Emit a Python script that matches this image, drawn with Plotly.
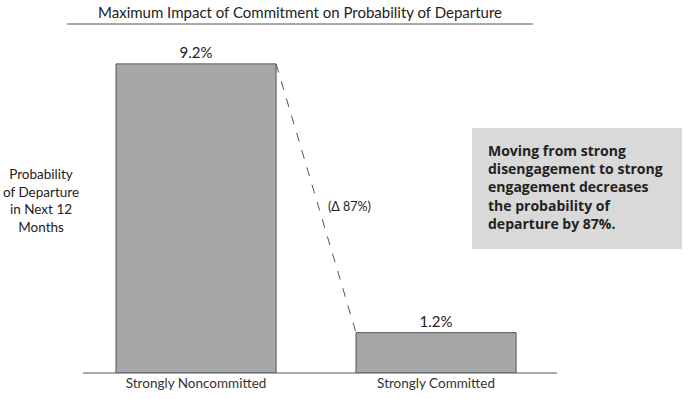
import plotly.graph_objects as go

categories = ["Strongly Noncommitted", "Strongly Committed"]
values = [9.2, 1.2]
value_labels = ["9.2%", "1.2%"]
change_label = "(Δ 87%)"
title_text = "Maximum Impact of Commitment on Probability of Departure"
y_title = "Probability<br>of Departure<br>in Next 12<br>Months"
note_text = ("<b>Moving from strong<br>disengagement to strong<br>engagement decreases<br>"
             "the probability of<br>departure by 87%.</b>")

FONT = "Lato, 'Open Sans', sans-serif"
xpos = [0, 1]
bw = 0.667

W, H = 690, 399
l, r, t, b = 83, 133, 37, 26
pw, ph = W - l - r, H - t - b
def px(x): return (x - l) / pw
def py(y): return (H - b - y) / ph

fig = go.Figure()
fig.add_trace(go.Bar(
    x=xpos, y=values, width=bw,
    marker=dict(color="#a6a7a9", line=dict(color="#555555", width=1)),
    text=value_labels, textposition="outside",
    textfont=dict(family=FONT, size=15, color="#222"),
    cliponaxis=False, hoverinfo="skip",
))
# dashed connector between bar tops
fig.add_trace(go.Scatter(
    x=[xpos[0] + bw / 2, xpos[1] - bw / 2], y=[values[0], values[1]],
    mode="lines", line=dict(color="#555555", width=1, dash="dash"),
    hoverinfo="skip",
))

fig.update_layout(
    width=W, height=H,
    margin=dict(l=l, r=r, t=t, b=b, autoexpand=False),
    plot_bgcolor="white", paper_bgcolor="white",
    showlegend=False,
    xaxis=dict(range=[-0.471, 1.504], tickvals=xpos, ticktext=categories,
               showgrid=False, zeroline=False, showline=False, ticks="",
               tickfont=dict(family=FONT, size=13.5, color="#333")),
    yaxis=dict(range=[0, 10], visible=False),
)

fig.add_shape(type="line", xref="paper", yref="paper", x0=0, x1=1, y0=0, y1=0,
              line=dict(color="#555555", width=1.2))
fig.add_annotation(x=0.54, y=4.97, xref="x", yref="y", text=change_label,
                   showarrow=False, xanchor="left", yanchor="middle",
                   font=dict(family=FONT, size=12.5, color="#222"))
fig.add_annotation(x=px(300), y=py(12), xref="paper", yref="paper", text=title_text,
                   showarrow=False, xanchor="center", yanchor="middle",
                   font=dict(family=FONT, size=15, color="#222"))
fig.add_shape(type="line", xref="paper", yref="paper", x0=px(67), x1=px(533),
              y0=py(24), y1=py(24), line=dict(color="#555555", width=1.2))
fig.add_annotation(x=px(41), y=py(200), xref="paper", yref="paper", text=y_title,
                   showarrow=False, align="center", xanchor="center", yanchor="middle",
                   font=dict(family=FONT, size=13.5, color="#222"))
fig.add_shape(type="rect", xref="paper", yref="paper", x0=px(472), x1=px(682),
              y0=py(249), y1=py(128), fillcolor="#d9d9d9", line=dict(width=0),
              layer="below")
fig.add_annotation(x=px(486), y=py(187), xref="paper", yref="paper", text=note_text,
                   showarrow=False, align="left", xanchor="left", yanchor="middle",
                   font=dict(family="'Open Sans', sans-serif", size=14, color="#222"))

fig.write_html("out.html", config={"displayModeBar": False},
               post_script="document.body.style.margin='0';")
